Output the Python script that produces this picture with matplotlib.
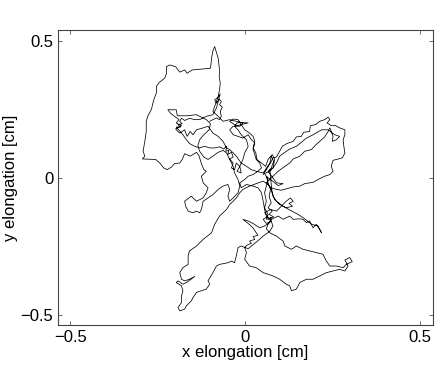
import matplotlib
matplotlib.use("Agg")
import matplotlib.pyplot as plt
import numpy as np

plt.rcParams['font.family'] = ['Liberation Sans', 'DejaVu Sans']

# Trajectory segments (x, y elongation in cm)
seg1_x = [0.052,0.061,0.073,0.080,0.090,0.099,0.107,0.120,0.138,0.147,0.161,0.168,0.185,0.187,0.202,0.214,0.228,0.238,0.243,0.235,0.247,0.260,0.271,0.286,0.286,0.281,0.283,0.286,0.279,0.262,0.252,0.247,0.252,0.243,0.228,0.209,0.195,0.171,0.157,0.138,0.118,0.104,0.090,0.075,0.061]
seg1_y = [0.012,0.030,0.054,0.073,0.076,0.097,0.115,0.125,0.133,0.149,0.151,0.166,0.169,0.190,0.194,0.206,0.212,0.221,0.212,0.200,0.190,0.190,0.182,0.175,0.157,0.139,0.115,0.091,0.073,0.067,0.064,0.042,0.024,0.012,0.006,-0.006,-0.016,-0.021,-0.030,-0.033,-0.040,-0.045,-0.042,-0.036,-0.018]

seg2_x = [0.080,0.095,0.114,0.128,0.138,0.157,0.171,0.190,0.200,0.214,0.228,0.238,0.243,0.252,0.250,0.262,0.271,0.257,0.238,0.219,0.195,0.176,0.161,0.147,0.128,0.114,0.099,0.090,0.080,0.071,0.056]
seg2_y = [0.006,0.024,0.042,0.054,0.069,0.079,0.097,0.103,0.117,0.133,0.149,0.169,0.182,0.151,0.133,0.139,0.151,0.157,0.175,0.175,0.157,0.145,0.129,0.115,0.105,0.093,0.079,0.054,0.036,0.024,0.016]

seg3_x = [0.066,0.061,0.056,0.061,0.056,0.066,0.061,0.075,0.071,0.056,0.042,0.023,0.009,-0.006,0.009,0.023,0.032,0.037,0.023,0.028,0.013,0.018,0.004,-0.001,0.004,-0.001,0.013,0.032,0.052,0.080,0.099,0.118,0.128,0.133,0.147,0.157,0.176,0.195,0.214,0.233,0.252,0.271,0.286,0.295,0.286,0.300,0.307,0.290,0.281,0.262,0.243,0.233,0.223,0.204,0.185,0.166,0.147,0.133,0.114,0.109,0.090,0.071,0.061,0.066,0.075,0.095,0.109,0.128,0.138,0.157,0.166,0.176,0.185,0.195,0.204,0.214,0.219,0.209,0.190,0.171,0.152,0.128,0.109,0.090,0.080,0.075,0.066]
seg3_y = [-0.006,-0.030,-0.054,-0.085,-0.109,-0.133,-0.151,-0.145,-0.163,-0.175,-0.182,-0.166,-0.157,-0.151,-0.166,-0.182,-0.200,-0.209,-0.214,-0.224,-0.230,-0.238,-0.246,-0.254,-0.272,-0.296,-0.321,-0.327,-0.345,-0.357,-0.369,-0.387,-0.393,-0.411,-0.405,-0.381,-0.369,-0.369,-0.357,-0.345,-0.339,-0.333,-0.339,-0.321,-0.299,-0.290,-0.305,-0.315,-0.327,-0.321,-0.321,-0.303,-0.278,-0.272,-0.266,-0.260,-0.248,-0.260,-0.248,-0.230,-0.212,-0.200,-0.185,-0.169,-0.151,-0.139,-0.151,-0.139,-0.151,-0.149,-0.151,-0.163,-0.157,-0.182,-0.169,-0.188,-0.200,-0.175,-0.169,-0.149,-0.133,-0.117,-0.103,-0.085,-0.067,-0.042,-0.024]

seg4_x = [0.052,0.032,0.013,-0.006,-0.015,-0.025,-0.034,-0.044,-0.053,-0.073,-0.087,-0.096,-0.120,-0.139,-0.159,-0.163,-0.163,-0.178,-0.187,-0.182,-0.173,-0.159,-0.144,-0.168,-0.178,-0.192,-0.197,-0.182,-0.178,-0.182,-0.182,-0.192,-0.187,-0.173,-0.168,-0.154,-0.149,-0.139,-0.125,-0.111,-0.101,-0.106,-0.092,-0.082,-0.073,-0.049,-0.039,-0.030,-0.025,-0.020,-0.011,0.009,0.023,0.032,0.052,0.071,0.080,0.073,0.061,0.056,0.052,0.047,0.037,0.023,0.004,-0.011,-0.015,-0.001]
seg4_y = [-0.012,-0.021,-0.030,-0.042,-0.054,-0.073,-0.085,-0.097,-0.115,-0.139,-0.169,-0.200,-0.224,-0.248,-0.266,-0.284,-0.315,-0.327,-0.345,-0.369,-0.375,-0.369,-0.359,-0.381,-0.387,-0.375,-0.381,-0.393,-0.411,-0.430,-0.454,-0.472,-0.484,-0.478,-0.466,-0.448,-0.436,-0.417,-0.411,-0.405,-0.387,-0.375,-0.345,-0.321,-0.315,-0.309,-0.303,-0.309,-0.284,-0.254,-0.248,-0.258,-0.243,-0.234,-0.212,-0.194,-0.175,-0.151,-0.139,-0.115,-0.085,-0.054,-0.036,-0.030,-0.024,-0.036,-0.018,-0.006]

seg5_x = [0.009,0.023,0.037,0.047,0.042,0.032,0.028,0.023,0.028,0.018,0.009,-0.006,-0.020,-0.034,-0.044,-0.034,-0.015,-0.006,-0.025,-0.044,-0.063,-0.077,-0.092,-0.087,-0.082,-0.077,-0.073,-0.071,-0.074,-0.073,-0.077,-0.084,-0.087,-0.092,-0.095,-0.099,-0.125,-0.151,-0.166,-0.173,-0.187,-0.199,-0.216,-0.225,-0.225,-0.230,-0.246,-0.254,-0.254,-0.262,-0.268,-0.278,-0.283,-0.283,-0.287,-0.292,-0.287,-0.294,-0.256,-0.244,-0.233,-0.223,-0.211,-0.202,-0.187,-0.180,-0.173,-0.157,-0.139,-0.132,-0.124,-0.118,-0.111,-0.125,-0.120,-0.106,-0.111,-0.120,-0.139,-0.154,-0.173,-0.170,-0.163,-0.149,-0.139,-0.130,-0.125,-0.120,-0.106,-0.092,-0.077,-0.063,-0.049,-0.044,-0.049,-0.044,-0.034,-0.020,-0.015,-0.020,-0.030,-0.034,-0.044,-0.053,-0.063,-0.077,-0.092,-0.106,-0.118,-0.130,-0.135,-0.130,-0.118,-0.103,-0.099,-0.111,-0.130,-0.139,-0.168,-0.194,-0.197,-0.221,-0.214,-0.202,-0.189,-0.197,-0.182,-0.199,-0.187,-0.173,-0.166,-0.157,-0.149,-0.139,-0.120,-0.106]
seg5_y = [0.006,0.012,0.024,0.036,0.054,0.067,0.085,0.103,0.127,0.139,0.157,0.145,0.151,0.157,0.175,0.188,0.188,0.200,0.206,0.212,0.206,0.224,0.242,0.260,0.278,0.296,0.321,0.345,0.369,0.393,0.436,0.466,0.478,0.463,0.442,0.399,0.396,0.393,0.381,0.393,0.385,0.405,0.411,0.405,0.381,0.363,0.347,0.333,0.309,0.282,0.250,0.226,0.206,0.169,0.133,0.097,0.079,0.069,0.067,0.054,0.036,0.030,0.039,0.052,0.054,0.067,0.088,0.079,0.093,0.081,0.048,0.030,0.024,0.006,-0.018,-0.036,-0.054,-0.073,-0.085,-0.067,-0.085,-0.103,-0.121,-0.127,-0.121,-0.127,-0.115,-0.085,-0.073,-0.061,-0.042,-0.030,-0.024,-0.042,-0.067,-0.085,-0.073,-0.054,-0.030,-0.006,0.018,0.042,0.067,0.091,0.100,0.093,0.079,0.067,0.076,0.097,0.117,0.139,0.157,0.175,0.197,0.212,0.224,0.230,0.226,0.226,0.248,0.248,0.236,0.224,0.212,0.200,0.190,0.178,0.163,0.175,0.151,0.169,0.157,0.175,0.182,0.188]

seg6_x = [-0.092,-0.077,-0.063,-0.053,-0.044,-0.034,-0.025,-0.011,0.004,0.018,0.032,0.052,0.071,0.075,0.082,0.075,0.066,0.090,0.109,0.095,0.061]
seg6_y = [0.163,0.151,0.133,0.109,0.103,0.091,0.079,0.054,0.042,0.030,0.024,0.018,0.054,0.079,0.060,0.036,0.024,-0.018,-0.021,-0.028,0.006]

seg8_x = [0.066,0.073,0.069,0.075,0.066,0.078,0.069,0.082,0.066,0.075,0.061,0.052,0.066,0.056,0.073,0.090,0.104,0.118,0.130,0.138,0.126,0.136,0.118,0.099,0.085,0.078,0.075,0.073]
seg8_y = [-0.018,-0.042,-0.067,-0.091,-0.109,-0.121,-0.133,-0.142,-0.149,-0.157,-0.166,-0.151,-0.139,-0.127,-0.115,-0.121,-0.103,-0.085,-0.073,-0.085,-0.093,-0.103,-0.109,-0.097,-0.079,-0.054,-0.024,0.006]

seg7_x = [0.071,0.080,0.085,0.078,0.066,0.059,0.047,0.034,0.031,0.023,0.028,0.023,0.013,-0.001,-0.020,-0.034,-0.044,-0.034,-0.023,-0.008,0.009,-0.011,-0.023,-0.030,-0.020,-0.011,0.004,0.009,-0.001,-0.006,-0.015,-0.011,-0.023,-0.015,-0.025,-0.030,-0.039,-0.034,-0.044,-0.034,-0.039,-0.050,-0.046,-0.055,-0.053,-0.061,-0.073,-0.087,-0.101,-0.116,-0.130,-0.144,-0.159,-0.168,-0.178,-0.189,-0.197,-0.185,-0.192,-0.180,-0.187,-0.182,-0.173,-0.159,-0.144,-0.130,-0.111,-0.092,-0.082,-0.071,-0.077,-0.087,-0.082,-0.074,-0.068,-0.073,-0.065,-0.071,-0.068,-0.073,-0.082,-0.092,-0.101]
seg7_y = [0.028,0.036,0.067,0.085,0.067,0.042,0.054,0.067,0.091,0.109,0.133,0.151,0.163,0.175,0.212,0.214,0.206,0.197,0.190,0.195,0.200,0.202,0.200,0.188,0.175,0.157,0.139,0.115,0.091,0.067,0.042,0.018,0.024,0.042,0.054,0.030,0.036,0.054,0.069,0.076,0.093,0.085,0.100,0.097,0.115,0.105,0.113,0.109,0.109,0.115,0.109,0.115,0.125,0.139,0.157,0.173,0.185,0.185,0.194,0.197,0.206,0.217,0.209,0.217,0.212,0.212,0.224,0.230,0.254,0.306,0.294,0.284,0.272,0.287,0.278,0.266,0.258,0.242,0.224,0.212,0.218,0.212,0.206]

x_ticks = [-0.5, 0, 0.5]
y_ticks = [-0.5, 0, 0.5]
x_label = "x elongation [cm]"
y_label = "y elongation [cm]"

x = np.concatenate([seg1_x, seg2_x, seg3_x, seg4_x, seg5_x, seg6_x, seg8_x, seg7_x])
y = np.concatenate([seg1_y, seg2_y, seg3_y, seg4_y, seg5_y, seg6_y, seg8_y, seg7_y])

fig = plt.figure(figsize=(4.36, 3.66), dpi=100)
ax = fig.add_axes([0.132, 0.111, 0.860, 0.806])
ax.plot(x, y, color='black', linewidth=0.55)
ax.set_xlim(-0.537, 0.537)
ax.set_ylim(-0.537, 0.537)
ax.set_xticks(x_ticks)
ax.set_yticks(y_ticks)
ax.set_xticklabels(['\u22120.5', '0', '0.5'])
ax.set_yticklabels(['\u22120.5', '0', '0.5'])
ax.tick_params(direction='in', length=3, width=0.6, top=True, right=True,
               labelsize=12, pad=3, color='#555555')
for s in ax.spines.values():
    s.set_linewidth(0.8)
    s.set_color('#444444')
ax.set_xlabel(x_label, fontsize=12, labelpad=0)
ax.set_ylabel(y_label, fontsize=12, labelpad=2)
fig.savefig('out.png', dpi=100)
